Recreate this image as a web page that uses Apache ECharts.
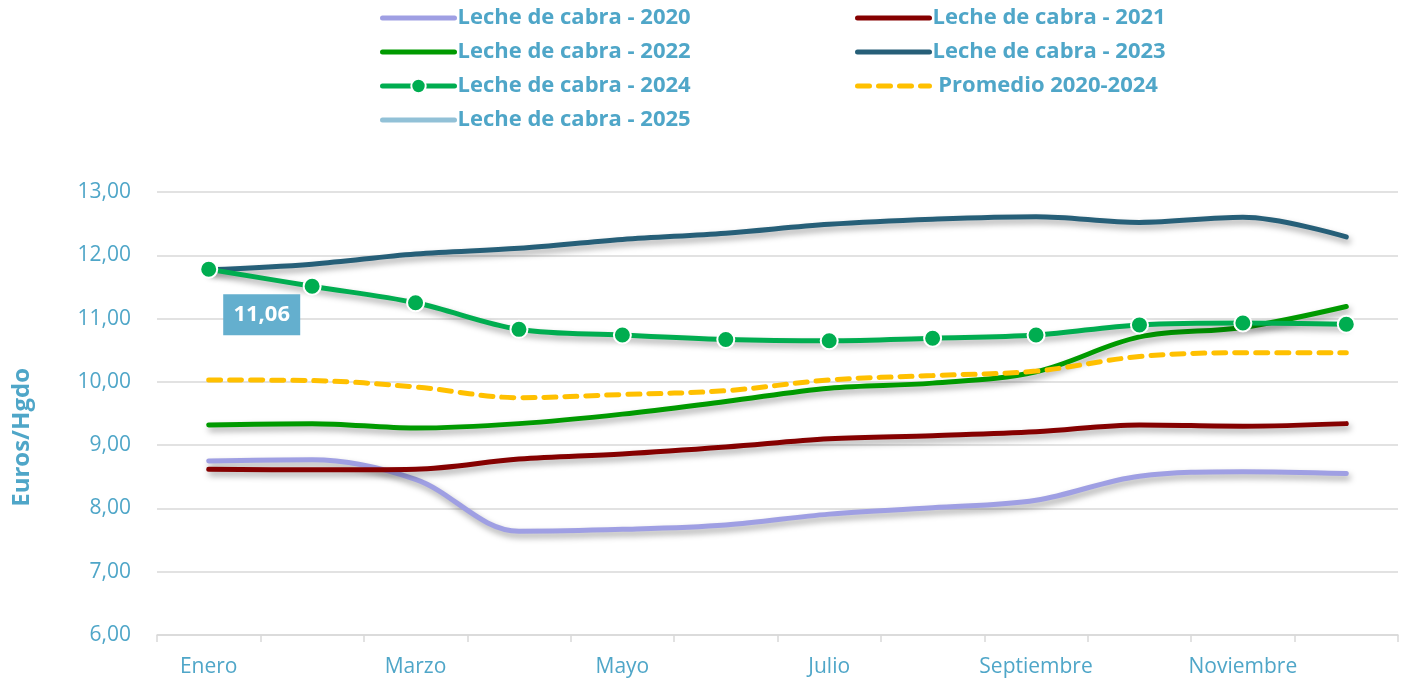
<!DOCTYPE html>
<html><head><meta charset="utf-8">
<script src="https://cdn.jsdelivr.net/npm/echarts@6/dist/echarts.min.js"></script>
<style>html,body{margin:0;padding:0;background:#fff}#c{width:1401px;height:682px}</style>
</head><body><div id="c"></div>
<script>
const months = ['Enero','Febrero','Marzo','Abril','Mayo','Junio','Julio','Agosto','Septiembre','Octubre','Noviembre','Diciembre'];
const y2020 = [8.75, 8.77, 8.46, 7.64, 7.67, 7.74, 7.91, 8.01, 8.13, 8.51, 8.58, 8.55];
const y2021 = [8.62, 8.61, 8.62, 8.78, 8.86, 8.97, 9.10, 9.15, 9.21, 9.32, 9.30, 9.34];
const y2022 = [9.32, 9.34, 9.27, 9.34, 9.49, 9.69, 9.90, 9.98, 10.16, 10.71, 10.86, 11.19];
const y2023 = [11.77, 11.86, 12.02, 12.11, 12.25, 12.35, 12.49, 12.57, 12.61, 12.52, 12.60, 12.29];
const y2024 = [11.78, 11.51, 11.25, 10.83, 10.74, 10.67, 10.65, 10.69, 10.74, 10.90, 10.93, 10.91];
const avg = [10.03, 10.02, 9.92, 9.75, 9.80, 9.86, 10.03, 10.10, 10.17, 10.40, 10.46, 10.46];
const y2025 = [11.06];
const yTicks = {min: 6, max: 13, interval: 1};

const names = ['Leche de cabra - 2020','Leche de cabra - 2021','Leche de cabra - 2022','Leche de cabra - 2023','Leche de cabra - 2024','Promedio 2020-2024','Leche de cabra - 2025'];
const blue = '#4fa6c8';
const FONT = 'Open Sans';
const shadow = {shadowColor:'rgba(0,0,0,0.35)', shadowBlur:6, shadowOffsetX:2, shadowOffsetY:4};
function fmt(v){return v.toFixed(2).replace('.', ',');}
function plain(name, data, color, extra){
  return Object.assign({
    name, type:'line', data, smooth:0.35, symbol:'none',
    lineStyle:Object.assign({color, width:5, cap:'round'}, shadow),
    itemStyle:{color}
  }, extra||{});
}
const series = [
  plain(names[0], y2020, '#9f9fe3'),
  plain(names[1], y2021, '#850000'),
  plain(names[2], y2022, '#009a00'),
  plain(names[3], y2023, '#265f78'),
  {
    name:names[4], type:'line', data:y2024, smooth:0.35, symbol:'circle', symbolSize:17, showSymbol:true,
    lineStyle:Object.assign({color:'#00ad50', width:5}, shadow),
    itemStyle:{color:'#00ad50', borderColor:'#fff', borderWidth:2}
  },
  plain(names[5], avg, '#ffc000', {lineStyle:{color:'#ffc000', width:5, type:[12,9], cap:'round'}}),
  plain(names[6], y2025, '#92c1d7', {
    markPoint:{
      symbol:'rect', symbolSize:[77,41], symbolOffset:[53,0],
      itemStyle:{color:'#64afce'},
      label:{show:true, position:'inside', color:'#fff', fontWeight:'bold', fontSize:22, fontFamily:FONT, formatter:(p)=>fmt(p.value)},
      data:[{coord:[0, y2025[0]], value:y2025[0]}]
    }
  })
];
const hide = {color:'rgba(0,0,0,0)', opacity:0, borderWidth:0};
function item(i){ return i === 4 ? {name:names[i]} : {name:names[i], itemStyle:hide}; }
const legendCommon = {orient:'vertical', top:6, padding:0, itemWidth:72, itemHeight:18, itemGap:10,
  lineStyle:{width:5, cap:'round'},
  textStyle:{color:blue, fontWeight:'bold', fontSize:22, lineHeight:24, fontFamily:FONT, padding:[0,0,0,-2]}};
const chart = echarts.init(document.getElementById('c'));
chart.setOption({
  animation:false,
  backgroundColor:'#fff',
  grid:{left:157, right:3, top:192, bottom:47},
  legend:[
    Object.assign({left:380, data:[item(0), item(2), item(4), item(6)]}, legendCommon),
    Object.assign({left:855, data:[item(1), item(3), item(5)],
      formatter:(n)=> n.startsWith('Promedio') ? ' ' + n : n}, legendCommon)
  ],
  xAxis:{type:'category', data:months, boundaryGap:true,
    axisLine:{lineStyle:{color:'#d9d9d9', width:1.5}},
    axisTick:{show:true, interval:0, length:7, lineStyle:{color:'#d9d9d9', width:1.5}},
    axisLabel:{interval:1, color:blue, fontSize:21, fontFamily:FONT, margin:22}},
  yAxis:{type:'value', min:yTicks.min, max:yTicks.max, interval:yTicks.interval,
    axisLine:{show:false}, axisTick:{show:false},
    splitLine:{lineStyle:{color:'#d9d9d9', width:1.5}},
    axisLabel:{color:blue, fontSize:21, fontFamily:FONT, margin:26, formatter:fmt}},
  graphic:[{type:'text', left:10, top:368, rotation:Math.PI/2,
    style:{text:'Euros/Hgdo', fill:blue, font:'bold 24px "Open Sans"'}}],
  series
});
</script></body></html>
